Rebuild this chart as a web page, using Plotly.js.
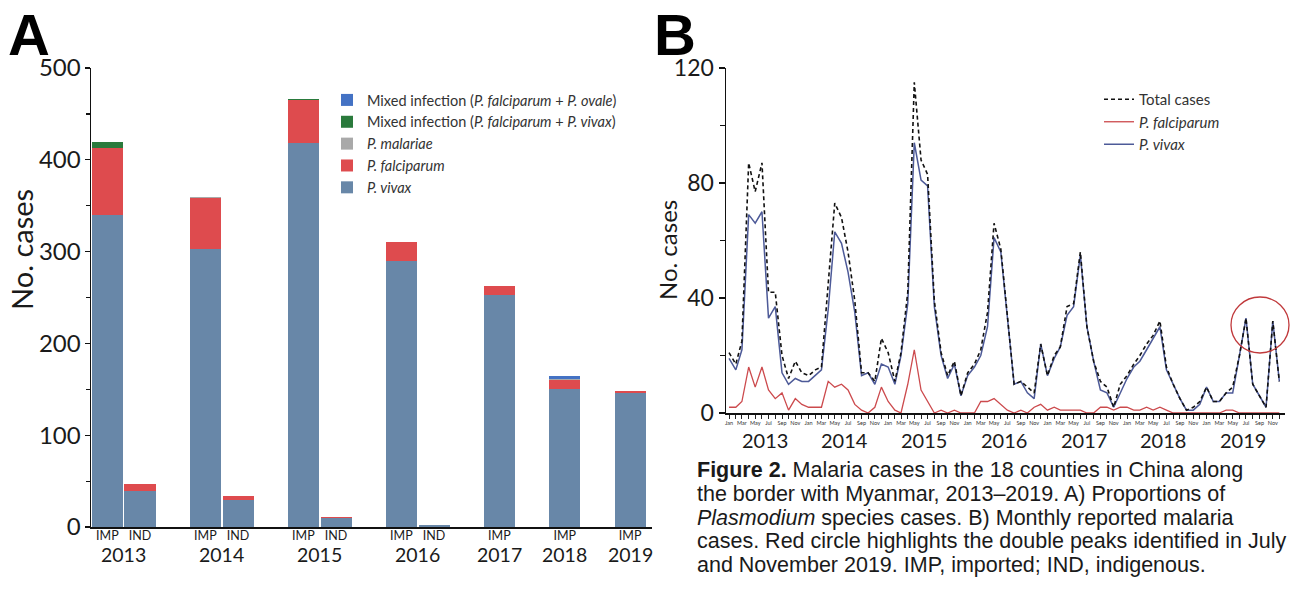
<!DOCTYPE html>
<html><head><meta charset="utf-8">
<script src="https://cdn.plot.ly/plotly-3.0.1.min.js"></script>
<style>html,body{margin:0;padding:0;background:#fff}#chart{width:1294px;height:589px}</style>
</head><body><div id="chart"></div>
<script>
// ---------- Panel A data (annual cases by origin and species) ----------
const years = ['2013','2014','2015','2016','2017','2018','2019'];
const impVivax       = [340, 303, 418, 290, 253, 150, 146];
const impFalciparum  = [73, 55, 47, 21, 10, 10, 2];
const impMalariae    = [0, 1, 0, 0, 0, 1, 0];
const impMixedVivax  = [6, 0, 1, 0, 0, 0, 0];
const impMixedOvale  = [0, 0, 0, 0, 0, 3, 0];
const indVivax       = [39, 29, 10, 2, null, null, null];
const indFalciparum  = [8, 5, 1, 0, null, null, null];
const originLabels   = {IMP: 'IMP', IND: 'IND'};

// ---------- Panel B data (monthly cases, Jan 2013 – Dec 2019) ----------
const monthlyYears = [2013, 2014, 2015, 2016, 2017, 2018, 2019];
const totalCases = [
  21,17,25,87,77,87,42,42,20,12,18,14,
  13,15,16,45,73,68,56,39,14,14,11,26,
  21,11,21,42,115,88,83,39,21,13,18,6,
  14,17,22,35,66,57,34,10,11,9,7,24,
  13,20,23,37,38,56,30,18,11,9,2,10,
  13,17,20,24,27,32,16,10,5,1,2,4,
  9,4,4,7,9,20,33,10,6,2,32,11
];
const falciparumCases = [
  2,2,4,16,9,16,8,5,7,1,5,3,
  2,2,2,11,9,10,8,3,1,0,2,9,
  4,1,0,10,22,8,4,0,1,0,1,0,
  0,0,4,4,5,3,1,0,1,0,2,3,
  1,2,1,1,1,1,0,0,2,2,1,2,
  2,1,1,2,1,2,1,0,0,0,0,0,
  0,0,0,1,1,0,0,0,0,0,0,0
];
const vivaxCases = [
  19,15,22,69,66,70,33,37,14,10,12,11,
  11,13,15,36,63,59,49,35,13,14,10,17,
  16,10,20,38,94,81,79,37,20,12,17,6,
  13,16,20,30,61,56,33,10,11,7,5,24,
  13,19,23,34,37,55,30,18,8,7,2,7,
  12,16,18,22,26,30,15,10,5,1,1,3,
  9,4,4,7,7,20,33,10,6,2,32,11
];

const captionLines = [
  '<b>Figure 2.</b> Malaria cases in the 18 counties in China along',
  'the border with Myanmar, 2013–2019. A) Proportions of',
  '<i>Plasmodium</i> species cases. B) Monthly reported malaria',
  'cases. Red circle highlights the double peaks identified in July',
  'and November 2019. IMP, imported; IND, indigenous.'
];

// ---------- helpers ----------
const W = 1294, H = 589;
const fx = p => p / W;
const fy = p => 1 - p / H;
const pad = n => String(n).padStart(2, '0');

// category slots for panel A (gap slot between years)
const cats = [], realCats = [], realText = [], yearCats = {};
years.forEach((y, k) => {
  yearCats[y] = [];
  const imp = y + ' IMP'; cats.push(imp); realCats.push(imp); realText.push(originLabels.IMP); yearCats[y].push(cats.length - 1);
  if (indVivax[k] !== null) {
    const ind = y + ' IND'; cats.push(ind); realCats.push(ind); realText.push(originLabels.IND); yearCats[y].push(cats.length - 1);
  }
  if (k < years.length - 1) cats.push('gap' + y);
});
function barSeries(impArr, indArr) {
  const x = [], yv = [];
  years.forEach((y, k) => {
    x.push(y + ' IMP'); yv.push(impArr[k]);
    if (indVivax[k] !== null) { x.push(y + ' IND'); yv.push(indArr ? indArr[k] : 0); }
  });
  return {x, y: yv};
}
const zeros = years.map(() => 0);

const FONT = 'Lato, "Open Sans", sans-serif';
const ARIAL = '"Liberation Sans", Arial, sans-serif';

const barDefs = [
  {name: '<i>P. vivax</i>', imp: impVivax, ind: indVivax, color: '#6887a8'},
  {name: '<i>P. falciparum</i>', imp: impFalciparum, ind: indFalciparum, color: '#de4b4e'},
  {name: '<i>P. malariae</i>', imp: impMalariae, ind: zeros, color: '#a9a9a9'},
  {name: 'Mixed infection (<i>P. falciparum</i> + <i>P. vivax</i>)', imp: impMixedVivax, ind: zeros, color: '#2a7a3c'},
  {name: 'Mixed infection (<i>P. falciparum</i> + <i>P. ovale</i>)', imp: impMixedOvale, ind: zeros, color: '#4472c4'}
];
const traces = barDefs.map(d => {
  const s = barSeries(d.imp, d.ind);
  return {type: 'bar', x: s.x, y: s.y, name: d.name, xaxis: 'x', yaxis: 'y',
          marker: {color: d.color, line: {width: 0}}, legend: 'legend', hoverinfo: 'x+y+name'};
});

// monthly dates
const months = [];
monthlyYears.forEach(y => { for (let m = 1; m <= 12; m++) months.push(`${y}-${pad(m)}-01`); });

traces.push({type: 'scatter', mode: 'lines', x: months, y: falciparumCases, name: '<i>P. falciparum</i>',
  xaxis: 'x2', yaxis: 'y2', legend: 'legend2', legendrank: 2, line: {color: '#cc4a4d', width: 1.3}});
traces.push({type: 'scatter', mode: 'lines', x: months, y: vivaxCases, name: '<i>P. vivax</i>',
  xaxis: 'x2', yaxis: 'y2', legend: 'legend2', legendrank: 3, line: {color: '#4d5a98', width: 1.5}});
traces.push({type: 'scatter', mode: 'lines', x: months, y: totalCases, name: 'Total cases',
  xaxis: 'x2', yaxis: 'y2', legend: 'legend2', legendrank: 1, line: {color: '#111', width: 1.6, dash: '4px,3px'}});

// annotations
const annotations = [
  {text: '<b>A</b>', xref: 'paper', yref: 'paper', x: fx(6), y: 1, xanchor: 'left', yanchor: 'top',
   showarrow: false, font: {family: ARIAL, size: 58, color: '#000'}},
  {text: '<b>B</b>', xref: 'paper', yref: 'paper', x: fx(652), y: 1, xanchor: 'left', yanchor: 'top',
   showarrow: false, font: {family: ARIAL, size: 58, color: '#000'}},
  {text: 'No. cases', xref: 'paper', yref: 'paper', x: fx(21), y: fy(250), xanchor: 'center', yanchor: 'middle',
   textangle: -90, showarrow: false, font: {family: FONT, size: 29, color: '#1a1a1a'}},
  {text: 'No. cases', xref: 'paper', yref: 'paper', x: fx(667), y: fy(250), xanchor: 'center', yanchor: 'middle',
   textangle: -90, showarrow: false, font: {family: FONT, size: 24, color: '#1a1a1a'}}
];
const captionY = [470, 494, 518, 541, 565];
captionLines.forEach((t, i) => {
  annotations.push({text: t, xref: 'paper', yref: 'paper', x: fx(695), y: fy(captionY[i]), xanchor: 'left', yanchor: 'middle',
    align: 'left', showarrow: false, font: {family: ARIAL, size: 21.5, color: '#1a1a1a'}});
});
years.forEach(y => {
  const idx = yearCats[y];
  const c = idx.reduce((a, b) => a + b, 0) / idx.length;
  annotations.push({text: y, xref: 'x', yref: 'paper', x: c, y: fy(554), yanchor: 'middle', xanchor: 'center',
    showarrow: false, font: {family: FONT, size: 19.5, color: '#1a1a1a'}});
});
monthlyYears.forEach(y => {
  annotations.push({text: String(y), xref: 'x2', yref: 'paper', x: `${y}-06-16`, y: fy(440), yanchor: 'middle', xanchor: 'center',
    showarrow: false, font: {family: FONT, size: 20, color: '#1a1a1a'}});
});

const layout = {
  width: W, height: H, margin: {l: 0, r: 0, t: 0, b: 0},
  paper_bgcolor: '#fff', plot_bgcolor: '#fff',
  barmode: 'stack', bargap: 0.05, showlegend: true,
  font: {family: FONT, color: '#1a1a1a'},
  xaxis: {domain: [fx(91), fx(652)], anchor: 'y', type: 'category', categoryorder: 'array', categoryarray: cats,
    range: [-0.5, 16.67], showline: true, linecolor: '#111', linewidth: 1.5, ticks: '', ticklabelstandoff: -4,
    tickmode: 'array', tickvals: realCats, ticktext: realText, tickfont: {family: FONT, size: 12.5, color: '#1a1a1a'},
    showgrid: false, zeroline: false, fixedrange: true},
  yaxis: {domain: [fy(527), fy(68)], anchor: 'x', range: [0, 500], tickmode: 'array', tickvals: [0,100,200,300,400,500],
    ticks: 'outside', ticklen: 5, tickwidth: 1.3, tickcolor: '#111', ticklabelstandoff: -1,
    minor: {tickmode: 'linear', tick0: 0, dtick: 50, ticks: 'outside', ticklen: 4, tickcolor: '#111', tickwidth: 1.2},
    showline: true, linecolor: '#111', linewidth: 1.5, showgrid: false, zeroline: false,
    tickfont: {family: FONT, size: 24, color: '#1a1a1a'}},
  xaxis2: {domain: [fx(726), fx(1285)], anchor: 'y2', type: 'date', range: ['2012-12-18', '2019-12-27'],
    tick0: '2013-01-01', dtick: 'M2', tickformat: '%b', ticks: 'outside', ticklen: 4, tickwidth: 1, tickcolor: '#222',
    minor: {dtick: 'M1', ticks: 'outside', ticklen: 4, tickcolor: '#222', tickwidth: 1},
    tickfont: {family: FONT, size: 5.5, color: '#333'}, showline: true, linecolor: '#111', linewidth: 1.5,
    showgrid: false, zeroline: false, fixedrange: true},
  yaxis2: {domain: [fy(413), fy(68)], anchor: 'x2', range: [0, 120], tickmode: 'array', tickvals: [0,40,80,120],
    ticks: 'outside', ticklen: 6, tickwidth: 1.3, tickcolor: '#111',
    minor: {tickmode: 'linear', tick0: 0, dtick: 20, ticks: 'outside', ticklen: 5, tickcolor: '#111', tickwidth: 1.2},
    showline: true, linecolor: '#111', linewidth: 1.5, showgrid: false, zeroline: false,
    tickfont: {family: FONT, size: 23, color: '#1a1a1a'}},
  legend: {x: fx(327), y: fy(84), xanchor: 'left', yanchor: 'top', traceorder: 'reversed',
    font: {family: FONT, size: 14.5, color: '#333'}, bgcolor: 'rgba(0,0,0,0)', itemwidth: 30, tracegroupgap: 0},
  legend2: {x: fx(1099), y: fy(83), xanchor: 'left', yanchor: 'top', traceorder: 'normal',
    font: {family: FONT, size: 15, color: '#333'}, bgcolor: 'rgba(0,0,0,0)', itemwidth: 30},
  shapes: [
    {type: 'circle', xref: 'paper', yref: 'paper', x0: fx(1231), x1: fx(1289), y0: fy(353), y1: fy(297),
     line: {color: '#c0393b', width: 1.3}}
  ],
  annotations
};

Plotly.newPlot('chart', traces, layout, {displayModeBar: false, staticPlot: true});
</script></body></html>
